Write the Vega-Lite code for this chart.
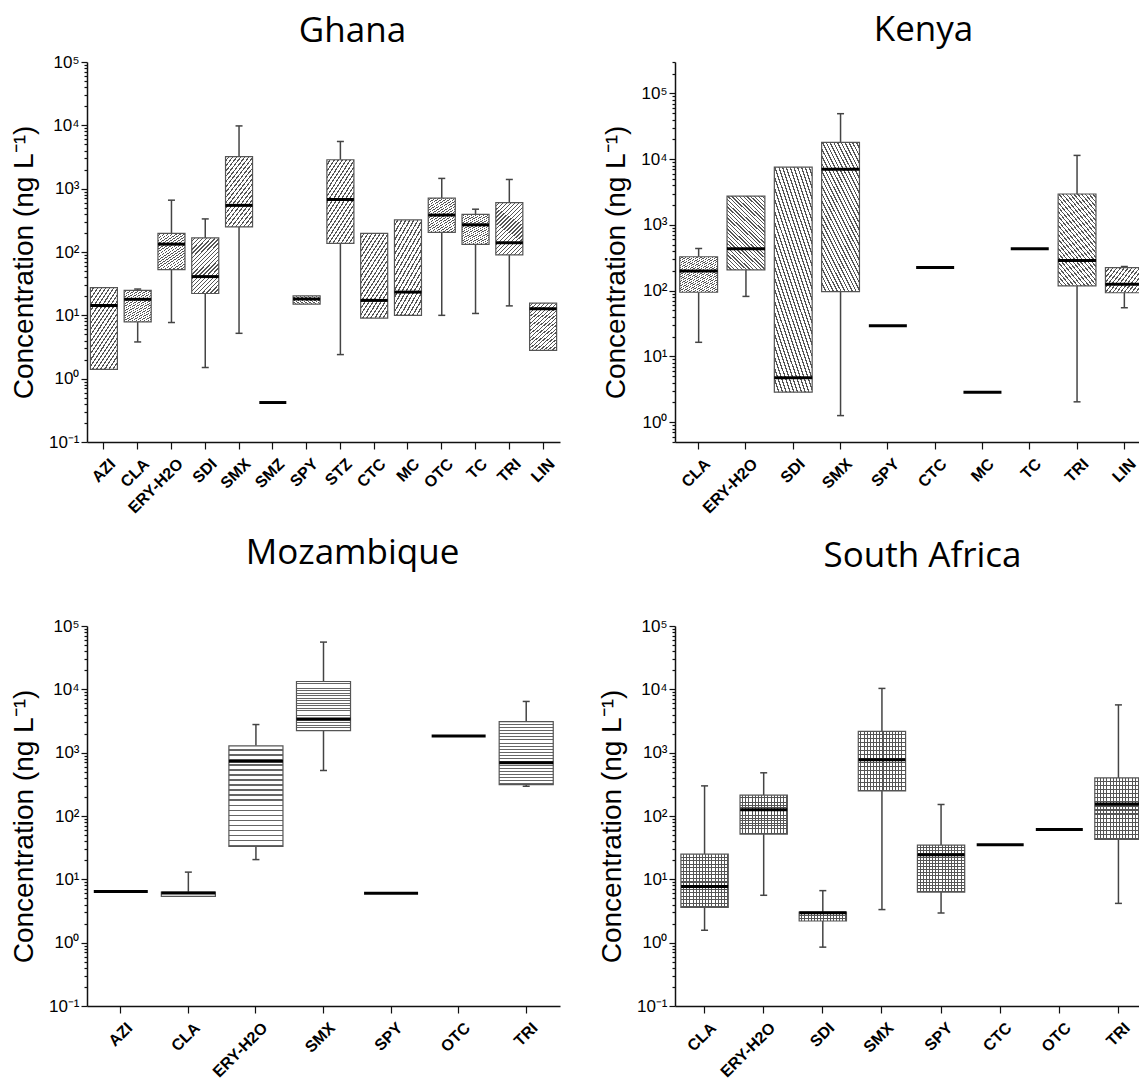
{
  "$schema": "https://vega.github.io/schema/vega-lite/v6.json",
  "background": "white",
  "padding": {"left": 10, "top": 13, "right": 0, "bottom": 0},
  "bounds": "flush",
  "columns": 2,
  "spacing": {"row": 184, "column": 115},
  "config": {
    "view": {"stroke": null},
    "tick": {"opacity": 1},
    "axis": {"grid": false, "domainColor": "#111", "domainWidth": 1.5, "tickColor": "#111", "tickWidth": 1.2, "labelColor": "#000", "titleColor": "#000"}
  },
  "datasets": {
    "boxes": [
      {"country": "Ghana", "drug": "AZI", "min": null, "q1": 1.4, "median": 14.3, "q3": 27.4, "max": null},
      {"country": "Ghana", "drug": "CLA", "min": 3.8, "q1": 7.9, "median": 17.9, "q3": 24.8, "max": 26},
      {"country": "Ghana", "drug": "ERY-H2O", "min": 7.7, "q1": 52.6, "median": 133, "q3": 197, "max": 658},
      {"country": "Ghana", "drug": "SDI", "min": 1.5, "q1": 22.1, "median": 40.9, "q3": 167, "max": 333},
      {"country": "Ghana", "drug": "SMX", "min": 5.2, "q1": 250, "median": 545, "q3": 3200, "max": 9790},
      {"country": "Ghana", "drug": "SMZ", "min": null, "q1": null, "median": 0.42, "q3": null, "max": null},
      {"country": "Ghana", "drug": "SPY", "min": null, "q1": 15, "median": 18.1, "q3": 20.3, "max": null},
      {"country": "Ghana", "drug": "STZ", "min": 2.4, "q1": 137, "median": 674, "q3": 2860, "max": 5560},
      {"country": "Ghana", "drug": "CTC", "min": null, "q1": 9.06, "median": 17.2, "q3": 197, "max": null},
      {"country": "Ghana", "drug": "MC", "min": null, "q1": 10, "median": 23.3, "q3": 321, "max": null},
      {"country": "Ghana", "drug": "OTC", "min": 10, "q1": 204, "median": 383, "q3": 709, "max": 1452},
      {"country": "Ghana", "drug": "TC", "min": 10.7, "q1": 132, "median": 269, "q3": 393, "max": 474},
      {"country": "Ghana", "drug": "TRI", "min": 14.1, "q1": 90, "median": 140, "q3": 602, "max": 1397},
      {"country": "Ghana", "drug": "LIN", "min": null, "q1": 2.8, "median": 12.7, "q3": 15.6, "max": null},
      {"country": "Kenya", "drug": "CLA", "min": 16.4, "q1": 94.6, "median": 200, "q3": 328, "max": 438},
      {"country": "Kenya", "drug": "ERY-H2O", "min": 81.8, "q1": 207, "median": 433, "q3": 2742, "max": null},
      {"country": "Kenya", "drug": "SDI", "min": null, "q1": 2.86, "median": 4.74, "q3": 7560, "max": null},
      {"country": "Kenya", "drug": "SMX", "min": 1.26, "q1": 97, "median": 7030, "q3": 18000, "max": 49100},
      {"country": "Kenya", "drug": "SPY", "min": null, "q1": null, "median": 29.4, "q3": null, "max": null},
      {"country": "Kenya", "drug": "CTC", "min": null, "q1": null, "median": 225, "q3": null, "max": null},
      {"country": "Kenya", "drug": "MC", "min": null, "q1": null, "median": 2.86, "q3": null, "max": null},
      {"country": "Kenya", "drug": "TC", "min": null, "q1": null, "median": 433, "q3": null, "max": null},
      {"country": "Kenya", "drug": "TRI", "min": 2.04, "q1": 118, "median": 288, "q3": 2950, "max": 11400},
      {"country": "Kenya", "drug": "LIN", "min": 55, "q1": 93, "median": 125, "q3": 224, "max": 233},
      {"country": "Mozambique", "drug": "AZI", "min": null, "q1": null, "median": 6.44, "q3": null, "max": null},
      {"country": "Mozambique", "drug": "CLA", "min": null, "q1": 5.4, "median": 6.1, "q3": 6.3, "max": 13},
      {"country": "Mozambique", "drug": "ERY-H2O", "min": 20.5, "q1": 33, "median": 735, "q3": 1284, "max": 2780},
      {"country": "Mozambique", "drug": "SMX", "min": 523, "q1": 2228, "median": 3410, "q3": 13300, "max": 55700},
      {"country": "Mozambique", "drug": "SPY", "min": null, "q1": null, "median": 6.04, "q3": null, "max": null},
      {"country": "Mozambique", "drug": "OTC", "min": null, "q1": null, "median": 1829, "q3": null, "max": null},
      {"country": "Mozambique", "drug": "TRI", "min": 295, "q1": 314, "median": 694, "q3": 3100, "max": 6440},
      {"country": "South Africa", "drug": "CLA", "min": 1.57, "q1": 3.59, "median": 7.7, "q3": 25, "max": 299},
      {"country": "South Africa", "drug": "ERY-H2O", "min": 5.6, "q1": 51.8, "median": 126, "q3": 213, "max": 481},
      {"country": "South Africa", "drug": "SDI", "min": 0.85, "q1": 2.2, "median": 2.98, "q3": 3.05, "max": 6.63},
      {"country": "South Africa", "drug": "SMX", "min": 3.33, "q1": 248, "median": 775, "q3": 2175, "max": 10340},
      {"country": "South Africa", "drug": "SPY", "min": 2.94, "q1": 6.3, "median": 24.4, "q3": 34.7, "max": 152},
      {"country": "South Africa", "drug": "CTC", "min": null, "q1": null, "median": 35.1, "q3": null, "max": null},
      {"country": "South Africa", "drug": "OTC", "min": null, "q1": null, "median": 61, "q3": null, "max": null},
      {"country": "South Africa", "drug": "TRI", "min": 4.17, "q1": 42.9, "median": 154, "q3": 399, "max": 5680}
    ]
  },
  "data": {"name": "boxes"},
  "concat": [
    {
      "width": 473, "height": 380,
      "title": {"text": "Ghana", "font": "Open Sans", "fontSize": 35, "fontWeight": "normal", "color": "#000", "anchor": "middle", "frame": "group", "baseline": "alphabetic", "offset": -24, "dx": 29},
      "transform": [{"filter": "datum.country == 'Ghana'"}],
      "encoding": {
        "x": {"field": "drug", "type": "nominal", "title": null,
          "scale": {"type": "band", "domain": ["AZI","CLA","ERY-H2O","SDI","SMX","SMZ","SPY","STZ","CTC","MC","OTC","TC","TRI","LIN"], "paddingInner": 0.2, "paddingOuter": 0.1},
          "axis": {"labelAngle": -45, "labelAlign": "right", "labelBaseline": "middle", "labelFont": "Liberation Sans", "labelFontWeight": "bold", "labelFontSize": 16, "labelPadding": 12, "labelOffset": 9, "tickSize": 7, "bandPosition": 0.5, "labelOverlap": false}}
      },
      "layer": [
        {"transform": [{"filter": "isValid(datum.max)"}],
         "mark": {"type": "rule", "color": "#444", "strokeWidth": 1.5},
         "encoding": {
           "y": {"field": "q3", "type": "quantitative", "title": "Concentration (ng L⁻¹)",
             "scale": {"type": "log", "domain": [0.1, 100000], "nice": false},
             "axis": {"values": [0.1,0.2,0.3,0.4,0.5,0.6,0.7,0.8,0.9,1,2,3,4,5,6,7,8,9,10,20,30,40,50,60,70,80,90,100,200,300,400,500,600,700,800,900,1000,2000,3000,4000,5000,6000,7000,8000,9000,10000,20000,30000,40000,50000,60000,70000,80000,90000,100000],
               "labelExpr": "datum.value == 0.1 ? '10⁻¹' : datum.value == 1 ? '10⁰' : datum.value == 10 ? '10¹' : datum.value == 100 ? '10²' : datum.value == 1000 ? '10³' : datum.value == 10000 ? '10⁴' : datum.value == 100000 ? '10⁵' : ''",
               "tickSize": {"condition": {"test": "indexof([0.1,1,10,100,1000,10000,100000], datum.value) >= 0", "value": 6}, "value": 3},
               "labelFont": "Liberation Sans", "labelFontSize": 17, "labelPadding": 2, "labelOverlap": false,
               "titleFont": "Liberation Sans", "titleFontSize": 28, "titleFontWeight": "normal", "titlePadding": 10, "titleY": 200}},
           "y2": {"field": "max"}}},
        {"transform": [{"filter": "isValid(datum.max)"}],
         "mark": {"type": "tick", "color": "#444", "size": 7, "thickness": 1.5},
         "encoding": {"y": {"field": "max", "type": "quantitative", "title": "Concentration (ng L⁻¹)", "scale": {"type": "log", "domain": [0.1, 100000], "nice": false}}}},
        {"transform": [{"filter": "isValid(datum.min)"}],
         "mark": {"type": "rule", "color": "#444", "strokeWidth": 1.5},
         "encoding": {"y": {"field": "min", "type": "quantitative", "title": "Concentration (ng L⁻¹)", "scale": {"type": "log", "domain": [0.1, 100000], "nice": false}}, "y2": {"field": "q1"}}},
        {"transform": [{"filter": "isValid(datum.min)"}],
         "mark": {"type": "tick", "color": "#444", "size": 7, "thickness": 1.5},
         "encoding": {"y": {"field": "min", "type": "quantitative", "title": "Concentration (ng L⁻¹)", "scale": {"type": "log", "domain": [0.1, 100000], "nice": false}}}},
        {"transform": [{"filter": "isValid(datum.q1)"}],
         "mark": {"type": "bar", "stroke": "#555", "strokeWidth": 1.2,
           "fill": {"gradient": "linear", "x1": 0, "y1": 0, "x2": 1, "y2": 2, "stops": [
             {"offset":0,"color":"#fff"},{"offset":0.02,"color":"#fff"},{"offset":0.02,"color":"#555"},{"offset":0.03,"color":"#555"},
             {"offset":0.03,"color":"#fff"},{"offset":0.05,"color":"#fff"},{"offset":0.05,"color":"#555"},{"offset":0.06,"color":"#555"},
             {"offset":0.06,"color":"#fff"},{"offset":0.08,"color":"#fff"},{"offset":0.08,"color":"#555"},{"offset":0.09,"color":"#555"},
             {"offset":0.09,"color":"#fff"},{"offset":0.11,"color":"#fff"},{"offset":0.11,"color":"#555"},{"offset":0.12,"color":"#555"},
             {"offset":0.12,"color":"#fff"},{"offset":0.14,"color":"#fff"},{"offset":0.14,"color":"#555"},{"offset":0.15,"color":"#555"},
             {"offset":0.15,"color":"#fff"},{"offset":0.17,"color":"#fff"},{"offset":0.17,"color":"#555"},{"offset":0.18,"color":"#555"},
             {"offset":0.18,"color":"#fff"},{"offset":0.2,"color":"#fff"},{"offset":0.2,"color":"#555"},{"offset":0.21,"color":"#555"},
             {"offset":0.21,"color":"#fff"},{"offset":0.23,"color":"#fff"},{"offset":0.23,"color":"#555"},{"offset":0.24,"color":"#555"},
             {"offset":0.24,"color":"#fff"},{"offset":0.26,"color":"#fff"},{"offset":0.26,"color":"#555"},{"offset":0.27,"color":"#555"},
             {"offset":0.27,"color":"#fff"},{"offset":0.29,"color":"#fff"},{"offset":0.29,"color":"#555"},{"offset":0.3,"color":"#555"},
             {"offset":0.3,"color":"#fff"},{"offset":0.32,"color":"#fff"},{"offset":0.32,"color":"#555"},{"offset":0.33,"color":"#555"},
             {"offset":0.33,"color":"#fff"},{"offset":0.35,"color":"#fff"},{"offset":0.35,"color":"#555"},{"offset":0.36,"color":"#555"},
             {"offset":0.36,"color":"#fff"},{"offset":0.38,"color":"#fff"},{"offset":0.38,"color":"#555"},{"offset":0.39,"color":"#555"},
             {"offset":0.39,"color":"#fff"},{"offset":0.41,"color":"#fff"},{"offset":0.41,"color":"#555"},{"offset":0.42,"color":"#555"},
             {"offset":0.42,"color":"#fff"},{"offset":0.44,"color":"#fff"},{"offset":0.44,"color":"#555"},{"offset":0.45,"color":"#555"},
             {"offset":0.45,"color":"#fff"},{"offset":0.47,"color":"#fff"},{"offset":0.47,"color":"#555"},{"offset":0.48,"color":"#555"},
             {"offset":0.48,"color":"#fff"},{"offset":0.5,"color":"#fff"},{"offset":0.5,"color":"#555"},{"offset":0.51,"color":"#555"},
             {"offset":0.51,"color":"#fff"},{"offset":0.53,"color":"#fff"},{"offset":0.53,"color":"#555"},{"offset":0.54,"color":"#555"},
             {"offset":0.54,"color":"#fff"},{"offset":0.56,"color":"#fff"},{"offset":0.56,"color":"#555"},{"offset":0.57,"color":"#555"},
             {"offset":0.57,"color":"#fff"},{"offset":0.59,"color":"#fff"},{"offset":0.59,"color":"#555"},{"offset":0.6,"color":"#555"},
             {"offset":0.6,"color":"#fff"},{"offset":1,"color":"#fff"}]}},
         "encoding": {"y": {"field": "q1", "type": "quantitative", "title": "Concentration (ng L⁻¹)", "scale": {"type": "log", "domain": [0.1, 100000], "nice": false}}, "y2": {"field": "q3"}}},
        {"mark": {"type": "tick", "color": "#000", "size": 27, "thickness": 3},
         "encoding": {"y": {"field": "median", "type": "quantitative", "title": "Concentration (ng L⁻¹)", "scale": {"type": "log", "domain": [0.1, 100000], "nice": false}}}}
      ]
    },
    {
      "width": 473, "height": 380,
      "title": {"text": "Kenya", "font": "Open Sans", "fontSize": 35, "fontWeight": "normal", "color": "#000", "anchor": "middle", "frame": "group", "baseline": "alphabetic", "offset": -23, "dx": 12},
      "transform": [{"filter": "datum.country == 'Kenya'"}],
      "encoding": {
        "x": {"field": "drug", "type": "nominal", "title": null,
          "scale": {"type": "band", "domain": ["CLA","ERY-H2O","SDI","SMX","SPY","CTC","MC","TC","TRI","LIN"], "paddingInner": 0.2, "paddingOuter": 0.1},
          "axis": {"labelAngle": -45, "labelAlign": "right", "labelBaseline": "middle", "labelFont": "Liberation Sans", "labelFontWeight": "bold", "labelFontSize": 16, "labelPadding": 12, "labelOffset": 9, "tickSize": 7, "bandPosition": 0.5, "labelOverlap": false}}
      },
      "layer": [
        {"transform": [{"filter": "isValid(datum.max)"}],
         "mark": {"type": "rule", "color": "#444", "strokeWidth": 1.5},
         "encoding": {
           "y": {"field": "q3", "type": "quantitative", "title": "Concentration (ng L⁻¹)",
             "scale": {"type": "log", "domain": [0.5, 300000], "nice": false},
             "axis": {"values": [0.5,0.6,0.7,0.8,0.9,1,2,3,4,5,6,7,8,9,10,20,30,40,50,60,70,80,90,100,200,300,400,500,600,700,800,900,1000,2000,3000,4000,5000,6000,7000,8000,9000,10000,20000,30000,40000,50000,60000,70000,80000,90000,100000,200000,300000],
               "labelExpr": "datum.value == 0.1 ? '10⁻¹' : datum.value == 1 ? '10⁰' : datum.value == 10 ? '10¹' : datum.value == 100 ? '10²' : datum.value == 1000 ? '10³' : datum.value == 10000 ? '10⁴' : datum.value == 100000 ? '10⁵' : ''",
               "tickSize": {"condition": {"test": "indexof([0.1,1,10,100,1000,10000,100000], datum.value) >= 0", "value": 6}, "value": 3},
               "labelFont": "Liberation Sans", "labelFontSize": 17, "labelPadding": 2, "labelOverlap": false,
               "titleFont": "Liberation Sans", "titleFontSize": 28, "titleFontWeight": "normal", "titlePadding": 10, "titleY": 200}},
           "y2": {"field": "max"}}},
        {"transform": [{"filter": "isValid(datum.max)"}],
         "mark": {"type": "tick", "color": "#444", "size": 7, "thickness": 1.5},
         "encoding": {"y": {"field": "max", "type": "quantitative", "title": "Concentration (ng L⁻¹)", "scale": {"type": "log", "domain": [0.5, 300000], "nice": false}}}},
        {"transform": [{"filter": "isValid(datum.min)"}],
         "mark": {"type": "rule", "color": "#444", "strokeWidth": 1.5},
         "encoding": {"y": {"field": "min", "type": "quantitative", "title": "Concentration (ng L⁻¹)", "scale": {"type": "log", "domain": [0.5, 300000], "nice": false}}, "y2": {"field": "q1"}}},
        {"transform": [{"filter": "isValid(datum.min)"}],
         "mark": {"type": "tick", "color": "#444", "size": 7, "thickness": 1.5},
         "encoding": {"y": {"field": "min", "type": "quantitative", "title": "Concentration (ng L⁻¹)", "scale": {"type": "log", "domain": [0.5, 300000], "nice": false}}}},
        {"transform": [{"filter": "isValid(datum.q1)"}],
         "mark": {"type": "bar", "stroke": "#555", "strokeWidth": 1.2,
           "fill": {"gradient": "linear", "x1": 1, "y1": 0, "x2": 0, "y2": 2, "stops": [
             {"offset":0,"color":"#fff"},{"offset":0.013,"color":"#fff"},{"offset":0.013,"color":"#555"},{"offset":0.02,"color":"#555"},
             {"offset":0.02,"color":"#fff"},{"offset":0.033,"color":"#fff"},{"offset":0.033,"color":"#555"},{"offset":0.04,"color":"#555"},
             {"offset":0.04,"color":"#fff"},{"offset":0.053,"color":"#fff"},{"offset":0.053,"color":"#555"},{"offset":0.06,"color":"#555"},
             {"offset":0.06,"color":"#fff"},{"offset":0.073,"color":"#fff"},{"offset":0.073,"color":"#555"},{"offset":0.08,"color":"#555"},
             {"offset":0.08,"color":"#fff"},{"offset":0.093,"color":"#fff"},{"offset":0.093,"color":"#555"},{"offset":0.1,"color":"#555"},
             {"offset":0.1,"color":"#fff"},{"offset":0.113,"color":"#fff"},{"offset":0.113,"color":"#555"},{"offset":0.12,"color":"#555"},
             {"offset":0.12,"color":"#fff"},{"offset":0.133,"color":"#fff"},{"offset":0.133,"color":"#555"},{"offset":0.14,"color":"#555"},
             {"offset":0.14,"color":"#fff"},{"offset":0.153,"color":"#fff"},{"offset":0.153,"color":"#555"},{"offset":0.16,"color":"#555"},
             {"offset":0.16,"color":"#fff"},{"offset":0.173,"color":"#fff"},{"offset":0.173,"color":"#555"},{"offset":0.18,"color":"#555"},
             {"offset":0.18,"color":"#fff"},{"offset":0.193,"color":"#fff"},{"offset":0.193,"color":"#555"},{"offset":0.2,"color":"#555"},
             {"offset":0.2,"color":"#fff"},{"offset":0.213,"color":"#fff"},{"offset":0.213,"color":"#555"},{"offset":0.22,"color":"#555"},
             {"offset":0.22,"color":"#fff"},{"offset":0.233,"color":"#fff"},{"offset":0.233,"color":"#555"},{"offset":0.24,"color":"#555"},
             {"offset":0.24,"color":"#fff"},{"offset":0.253,"color":"#fff"},{"offset":0.253,"color":"#555"},{"offset":0.26,"color":"#555"},
             {"offset":0.26,"color":"#fff"},{"offset":0.273,"color":"#fff"},{"offset":0.273,"color":"#555"},{"offset":0.28,"color":"#555"},
             {"offset":0.28,"color":"#fff"},{"offset":0.293,"color":"#fff"},{"offset":0.293,"color":"#555"},{"offset":0.3,"color":"#555"},
             {"offset":0.3,"color":"#fff"},{"offset":0.313,"color":"#fff"},{"offset":0.313,"color":"#555"},{"offset":0.32,"color":"#555"},
             {"offset":0.32,"color":"#fff"},{"offset":0.333,"color":"#fff"},{"offset":0.333,"color":"#555"},{"offset":0.34,"color":"#555"},
             {"offset":0.34,"color":"#fff"},{"offset":0.353,"color":"#fff"},{"offset":0.353,"color":"#555"},{"offset":0.36,"color":"#555"},
             {"offset":0.36,"color":"#fff"},{"offset":0.373,"color":"#fff"},{"offset":0.373,"color":"#555"},{"offset":0.38,"color":"#555"},
             {"offset":0.38,"color":"#fff"},{"offset":0.393,"color":"#fff"},{"offset":0.393,"color":"#555"},{"offset":0.4,"color":"#555"},
             {"offset":0.4,"color":"#fff"},{"offset":0.413,"color":"#fff"},{"offset":0.413,"color":"#555"},{"offset":0.42,"color":"#555"},
             {"offset":0.42,"color":"#fff"},{"offset":0.433,"color":"#fff"},{"offset":0.433,"color":"#555"},{"offset":0.44,"color":"#555"},
             {"offset":0.44,"color":"#fff"},{"offset":0.453,"color":"#fff"},{"offset":0.453,"color":"#555"},{"offset":0.46,"color":"#555"},
             {"offset":0.46,"color":"#fff"},{"offset":0.473,"color":"#fff"},{"offset":0.473,"color":"#555"},{"offset":0.48,"color":"#555"},
             {"offset":0.48,"color":"#fff"},{"offset":0.493,"color":"#fff"},{"offset":0.493,"color":"#555"},{"offset":0.5,"color":"#555"},
             {"offset":0.5,"color":"#fff"},{"offset":0.513,"color":"#fff"},{"offset":0.513,"color":"#555"},{"offset":0.52,"color":"#555"},
             {"offset":0.52,"color":"#fff"},{"offset":0.533,"color":"#fff"},{"offset":0.533,"color":"#555"},{"offset":0.54,"color":"#555"},
             {"offset":0.54,"color":"#fff"},{"offset":0.553,"color":"#fff"},{"offset":0.553,"color":"#555"},{"offset":0.56,"color":"#555"},
             {"offset":0.56,"color":"#fff"},{"offset":0.573,"color":"#fff"},{"offset":0.573,"color":"#555"},{"offset":0.58,"color":"#555"},
             {"offset":0.58,"color":"#fff"},{"offset":0.593,"color":"#fff"},{"offset":0.593,"color":"#555"},{"offset":0.6,"color":"#555"},
             {"offset":0.6,"color":"#fff"},{"offset":1,"color":"#fff"}]}},
         "encoding": {"y": {"field": "q1", "type": "quantitative", "title": "Concentration (ng L⁻¹)", "scale": {"type": "log", "domain": [0.5, 300000], "nice": false}}, "y2": {"field": "q3"}}},
        {"mark": {"type": "tick", "color": "#000", "size": 38, "thickness": 3},
         "encoding": {"y": {"field": "median", "type": "quantitative", "title": "Concentration (ng L⁻¹)", "scale": {"type": "log", "domain": [0.5, 300000], "nice": false}}}}
      ]
    },
    {
      "width": 473, "height": 380,
      "title": {"text": "Mozambique", "font": "Open Sans", "fontSize": 35, "fontWeight": "normal", "color": "#000", "anchor": "middle", "frame": "group", "baseline": "alphabetic", "offset": 18, "dx": 29},
      "transform": [{"filter": "datum.country == 'Mozambique'"}],
      "encoding": {
        "x": {"field": "drug", "type": "nominal", "title": null,
          "scale": {"type": "band", "domain": ["AZI","CLA","ERY-H2O","SMX","SPY","OTC","TRI"], "paddingInner": 0.2, "paddingOuter": 0.1},
          "axis": {"labelAngle": -45, "labelAlign": "right", "labelBaseline": "middle", "labelFont": "Liberation Sans", "labelFontWeight": "bold", "labelFontSize": 16, "labelPadding": 12, "labelOffset": 9, "tickSize": 7, "bandPosition": 0.5, "labelOverlap": false}}
      },
      "layer": [
        {"transform": [{"filter": "isValid(datum.max)"}],
         "mark": {"type": "rule", "color": "#444", "strokeWidth": 1.5},
         "encoding": {
           "y": {"field": "q3", "type": "quantitative", "title": "Concentration (ng L⁻¹)",
             "scale": {"type": "log", "domain": [0.1, 100000], "nice": false},
             "axis": {"values": [0.1,0.2,0.3,0.4,0.5,0.6,0.7,0.8,0.9,1,2,3,4,5,6,7,8,9,10,20,30,40,50,60,70,80,90,100,200,300,400,500,600,700,800,900,1000,2000,3000,4000,5000,6000,7000,8000,9000,10000,20000,30000,40000,50000,60000,70000,80000,90000,100000],
               "labelExpr": "datum.value == 0.1 ? '10⁻¹' : datum.value == 1 ? '10⁰' : datum.value == 10 ? '10¹' : datum.value == 100 ? '10²' : datum.value == 1000 ? '10³' : datum.value == 10000 ? '10⁴' : datum.value == 100000 ? '10⁵' : ''",
               "tickSize": {"condition": {"test": "indexof([0.1,1,10,100,1000,10000,100000], datum.value) >= 0", "value": 6}, "value": 3},
               "labelFont": "Liberation Sans", "labelFontSize": 17, "labelPadding": 2, "labelOverlap": false,
               "titleFont": "Liberation Sans", "titleFontSize": 28, "titleFontWeight": "normal", "titlePadding": 10, "titleY": 200}},
           "y2": {"field": "max"}}},
        {"transform": [{"filter": "isValid(datum.max)"}],
         "mark": {"type": "tick", "color": "#444", "size": 7, "thickness": 1.5},
         "encoding": {"y": {"field": "max", "type": "quantitative", "title": "Concentration (ng L⁻¹)", "scale": {"type": "log", "domain": [0.1, 100000], "nice": false}}}},
        {"transform": [{"filter": "isValid(datum.min)"}],
         "mark": {"type": "rule", "color": "#444", "strokeWidth": 1.5},
         "encoding": {"y": {"field": "min", "type": "quantitative", "title": "Concentration (ng L⁻¹)", "scale": {"type": "log", "domain": [0.1, 100000], "nice": false}}, "y2": {"field": "q1"}}},
        {"transform": [{"filter": "isValid(datum.min)"}],
         "mark": {"type": "tick", "color": "#444", "size": 7, "thickness": 1.5},
         "encoding": {"y": {"field": "min", "type": "quantitative", "title": "Concentration (ng L⁻¹)", "scale": {"type": "log", "domain": [0.1, 100000], "nice": false}}}},
        {"transform": [{"filter": "isValid(datum.q1)"}],
         "mark": {"type": "bar", "stroke": "#555", "strokeWidth": 1.2,
           "fill": {"gradient": "linear", "x1": 0, "y1": 0, "x2": 0, "y2": 1, "stops": [
             {"offset":0,"color":"#fff"},{"offset":0.033,"color":"#fff"},{"offset":0.033,"color":"#666"},{"offset":0.05,"color":"#666"},
             {"offset":0.05,"color":"#fff"},{"offset":0.083,"color":"#fff"},{"offset":0.083,"color":"#666"},{"offset":0.1,"color":"#666"},
             {"offset":0.1,"color":"#fff"},{"offset":0.133,"color":"#fff"},{"offset":0.133,"color":"#666"},{"offset":0.15,"color":"#666"},
             {"offset":0.15,"color":"#fff"},{"offset":0.183,"color":"#fff"},{"offset":0.183,"color":"#666"},{"offset":0.2,"color":"#666"},
             {"offset":0.2,"color":"#fff"},{"offset":0.233,"color":"#fff"},{"offset":0.233,"color":"#666"},{"offset":0.25,"color":"#666"},
             {"offset":0.25,"color":"#fff"},{"offset":0.283,"color":"#fff"},{"offset":0.283,"color":"#666"},{"offset":0.3,"color":"#666"},
             {"offset":0.3,"color":"#fff"},{"offset":0.333,"color":"#fff"},{"offset":0.333,"color":"#666"},{"offset":0.35,"color":"#666"},
             {"offset":0.35,"color":"#fff"},{"offset":0.383,"color":"#fff"},{"offset":0.383,"color":"#666"},{"offset":0.4,"color":"#666"},
             {"offset":0.4,"color":"#fff"},{"offset":0.433,"color":"#fff"},{"offset":0.433,"color":"#666"},{"offset":0.45,"color":"#666"},
             {"offset":0.45,"color":"#fff"},{"offset":0.483,"color":"#fff"},{"offset":0.483,"color":"#666"},{"offset":0.5,"color":"#666"},
             {"offset":0.5,"color":"#fff"},{"offset":0.533,"color":"#fff"},{"offset":0.533,"color":"#666"},{"offset":0.55,"color":"#666"},
             {"offset":0.55,"color":"#fff"},{"offset":0.583,"color":"#fff"},{"offset":0.583,"color":"#666"},{"offset":0.6,"color":"#666"},
             {"offset":0.6,"color":"#fff"},{"offset":0.633,"color":"#fff"},{"offset":0.633,"color":"#666"},{"offset":0.65,"color":"#666"},
             {"offset":0.65,"color":"#fff"},{"offset":0.683,"color":"#fff"},{"offset":0.683,"color":"#666"},{"offset":0.7,"color":"#666"},
             {"offset":0.7,"color":"#fff"},{"offset":0.733,"color":"#fff"},{"offset":0.733,"color":"#666"},{"offset":0.75,"color":"#666"},
             {"offset":0.75,"color":"#fff"},{"offset":0.783,"color":"#fff"},{"offset":0.783,"color":"#666"},{"offset":0.8,"color":"#666"},
             {"offset":0.8,"color":"#fff"},{"offset":0.833,"color":"#fff"},{"offset":0.833,"color":"#666"},{"offset":0.85,"color":"#666"},
             {"offset":0.85,"color":"#fff"},{"offset":0.883,"color":"#fff"},{"offset":0.883,"color":"#666"},{"offset":0.9,"color":"#666"},
             {"offset":0.9,"color":"#fff"},{"offset":0.933,"color":"#fff"},{"offset":0.933,"color":"#666"},{"offset":0.95,"color":"#666"},
             {"offset":0.95,"color":"#fff"},{"offset":0.983,"color":"#fff"},{"offset":0.983,"color":"#666"},{"offset":1,"color":"#666"}]}},
         "encoding": {"y": {"field": "q1", "type": "quantitative", "title": "Concentration (ng L⁻¹)", "scale": {"type": "log", "domain": [0.1, 100000], "nice": false}}, "y2": {"field": "q3"}}},
        {"mark": {"type": "tick", "color": "#000", "size": 54, "thickness": 3},
         "encoding": {"y": {"field": "median", "type": "quantitative", "title": "Concentration (ng L⁻¹)", "scale": {"type": "log", "domain": [0.1, 100000], "nice": false}}}}
      ]
    },
    {
      "width": 473, "height": 380,
      "title": {"text": "South Africa", "font": "Open Sans", "fontSize": 35, "fontWeight": "normal", "color": "#000", "anchor": "middle", "frame": "group", "baseline": "alphabetic", "offset": 15, "dx": 11},
      "transform": [{"filter": "datum.country == 'South Africa'"}],
      "encoding": {
        "x": {"field": "drug", "type": "nominal", "title": null,
          "scale": {"type": "band", "domain": ["CLA","ERY-H2O","SDI","SMX","SPY","CTC","OTC","TRI"], "paddingInner": 0.2, "paddingOuter": 0.1},
          "axis": {"labelAngle": -45, "labelAlign": "right", "labelBaseline": "middle", "labelFont": "Liberation Sans", "labelFontWeight": "bold", "labelFontSize": 16, "labelPadding": 12, "labelOffset": 9, "tickSize": 7, "bandPosition": 0.5, "labelOverlap": false}}
      },
      "layer": [
        {"transform": [{"filter": "isValid(datum.max)"}],
         "mark": {"type": "rule", "color": "#444", "strokeWidth": 1.5},
         "encoding": {
           "y": {"field": "q3", "type": "quantitative", "title": "Concentration (ng L⁻¹)",
             "scale": {"type": "log", "domain": [0.1, 100000], "nice": false},
             "axis": {"values": [0.1,0.2,0.3,0.4,0.5,0.6,0.7,0.8,0.9,1,2,3,4,5,6,7,8,9,10,20,30,40,50,60,70,80,90,100,200,300,400,500,600,700,800,900,1000,2000,3000,4000,5000,6000,7000,8000,9000,10000,20000,30000,40000,50000,60000,70000,80000,90000,100000],
               "labelExpr": "datum.value == 0.1 ? '10⁻¹' : datum.value == 1 ? '10⁰' : datum.value == 10 ? '10¹' : datum.value == 100 ? '10²' : datum.value == 1000 ? '10³' : datum.value == 10000 ? '10⁴' : datum.value == 100000 ? '10⁵' : ''",
               "tickSize": {"condition": {"test": "indexof([0.1,1,10,100,1000,10000,100000], datum.value) >= 0", "value": 6}, "value": 3},
               "labelFont": "Liberation Sans", "labelFontSize": 17, "labelPadding": 2, "labelOverlap": false,
               "titleFont": "Liberation Sans", "titleFontSize": 28, "titleFontWeight": "normal", "titlePadding": 10, "titleY": 200}},
           "y2": {"field": "max"}}},
        {"transform": [{"filter": "isValid(datum.max)"}],
         "mark": {"type": "tick", "color": "#444", "size": 7, "thickness": 1.5},
         "encoding": {"y": {"field": "max", "type": "quantitative", "title": "Concentration (ng L⁻¹)", "scale": {"type": "log", "domain": [0.1, 100000], "nice": false}}}},
        {"transform": [{"filter": "isValid(datum.min)"}],
         "mark": {"type": "rule", "color": "#444", "strokeWidth": 1.5},
         "encoding": {"y": {"field": "min", "type": "quantitative", "title": "Concentration (ng L⁻¹)", "scale": {"type": "log", "domain": [0.1, 100000], "nice": false}}, "y2": {"field": "q1"}}},
        {"transform": [{"filter": "isValid(datum.min)"}],
         "mark": {"type": "tick", "color": "#444", "size": 7, "thickness": 1.5},
         "encoding": {"y": {"field": "min", "type": "quantitative", "title": "Concentration (ng L⁻¹)", "scale": {"type": "log", "domain": [0.1, 100000], "nice": false}}}},
        {"transform": [{"filter": "isValid(datum.q1)"}],
         "mark": {"type": "bar",
           "fill": {"gradient": "linear", "x1": 0, "y1": 0, "x2": 1, "y2": 0, "stops": [
             {"offset":0,"color":"#fff"},{"offset":0.045,"color":"#fff"},{"offset":0.045,"color":"#555"},{"offset":0.0667,"color":"#555"},
             {"offset":0.0667,"color":"#fff"},{"offset":0.1117,"color":"#fff"},{"offset":0.1117,"color":"#555"},{"offset":0.1333,"color":"#555"},
             {"offset":0.1333,"color":"#fff"},{"offset":0.1783,"color":"#fff"},{"offset":0.1783,"color":"#555"},{"offset":0.2,"color":"#555"},
             {"offset":0.2,"color":"#fff"},{"offset":0.245,"color":"#fff"},{"offset":0.245,"color":"#555"},{"offset":0.2667,"color":"#555"},
             {"offset":0.2667,"color":"#fff"},{"offset":0.3117,"color":"#fff"},{"offset":0.3117,"color":"#555"},{"offset":0.3333,"color":"#555"},
             {"offset":0.3333,"color":"#fff"},{"offset":0.3783,"color":"#fff"},{"offset":0.3783,"color":"#555"},{"offset":0.4,"color":"#555"},
             {"offset":0.4,"color":"#fff"},{"offset":0.445,"color":"#fff"},{"offset":0.445,"color":"#555"},{"offset":0.4667,"color":"#555"},
             {"offset":0.4667,"color":"#fff"},{"offset":0.5117,"color":"#fff"},{"offset":0.5117,"color":"#555"},{"offset":0.5333,"color":"#555"},
             {"offset":0.5333,"color":"#fff"},{"offset":0.5783,"color":"#fff"},{"offset":0.5783,"color":"#555"},{"offset":0.6,"color":"#555"},
             {"offset":0.6,"color":"#fff"},{"offset":0.645,"color":"#fff"},{"offset":0.645,"color":"#555"},{"offset":0.6667,"color":"#555"},
             {"offset":0.6667,"color":"#fff"},{"offset":0.7117,"color":"#fff"},{"offset":0.7117,"color":"#555"},{"offset":0.7333,"color":"#555"},
             {"offset":0.7333,"color":"#fff"},{"offset":0.7783,"color":"#fff"},{"offset":0.7783,"color":"#555"},{"offset":0.8,"color":"#555"},
             {"offset":0.8,"color":"#fff"},{"offset":0.845,"color":"#fff"},{"offset":0.845,"color":"#555"},{"offset":0.8667,"color":"#555"},
             {"offset":0.8667,"color":"#fff"},{"offset":0.9117,"color":"#fff"},{"offset":0.9117,"color":"#555"},{"offset":0.9333,"color":"#555"},
             {"offset":0.9333,"color":"#fff"},{"offset":0.9783,"color":"#fff"},{"offset":0.9783,"color":"#555"},{"offset":1,"color":"#555"}]}},
         "encoding": {"y": {"field": "q1", "type": "quantitative", "title": "Concentration (ng L⁻¹)", "scale": {"type": "log", "domain": [0.1, 100000], "nice": false}}, "y2": {"field": "q3"}}},
        {"transform": [{"filter": "isValid(datum.q1)"}],
         "mark": {"type": "bar", "stroke": "#555", "strokeWidth": 1.2,
           "fill": {"gradient": "linear", "x1": 0, "y1": 0, "x2": 0, "y2": 1, "stops": [
             {"offset":0,"color":"rgba(255,255,255,0)"},{"offset":0.045,"color":"rgba(255,255,255,0)"},{"offset":0.045,"color":"#555"},{"offset":0.0667,"color":"#555"},
             {"offset":0.0667,"color":"rgba(255,255,255,0)"},{"offset":0.1117,"color":"rgba(255,255,255,0)"},{"offset":0.1117,"color":"#555"},{"offset":0.1333,"color":"#555"},
             {"offset":0.1333,"color":"rgba(255,255,255,0)"},{"offset":0.1783,"color":"rgba(255,255,255,0)"},{"offset":0.1783,"color":"#555"},{"offset":0.2,"color":"#555"},
             {"offset":0.2,"color":"rgba(255,255,255,0)"},{"offset":0.245,"color":"rgba(255,255,255,0)"},{"offset":0.245,"color":"#555"},{"offset":0.2667,"color":"#555"},
             {"offset":0.2667,"color":"rgba(255,255,255,0)"},{"offset":0.3117,"color":"rgba(255,255,255,0)"},{"offset":0.3117,"color":"#555"},{"offset":0.3333,"color":"#555"},
             {"offset":0.3333,"color":"rgba(255,255,255,0)"},{"offset":0.3783,"color":"rgba(255,255,255,0)"},{"offset":0.3783,"color":"#555"},{"offset":0.4,"color":"#555"},
             {"offset":0.4,"color":"rgba(255,255,255,0)"},{"offset":0.445,"color":"rgba(255,255,255,0)"},{"offset":0.445,"color":"#555"},{"offset":0.4667,"color":"#555"},
             {"offset":0.4667,"color":"rgba(255,255,255,0)"},{"offset":0.5117,"color":"rgba(255,255,255,0)"},{"offset":0.5117,"color":"#555"},{"offset":0.5333,"color":"#555"},
             {"offset":0.5333,"color":"rgba(255,255,255,0)"},{"offset":0.5783,"color":"rgba(255,255,255,0)"},{"offset":0.5783,"color":"#555"},{"offset":0.6,"color":"#555"},
             {"offset":0.6,"color":"rgba(255,255,255,0)"},{"offset":0.645,"color":"rgba(255,255,255,0)"},{"offset":0.645,"color":"#555"},{"offset":0.6667,"color":"#555"},
             {"offset":0.6667,"color":"rgba(255,255,255,0)"},{"offset":0.7117,"color":"rgba(255,255,255,0)"},{"offset":0.7117,"color":"#555"},{"offset":0.7333,"color":"#555"},
             {"offset":0.7333,"color":"rgba(255,255,255,0)"},{"offset":0.7783,"color":"rgba(255,255,255,0)"},{"offset":0.7783,"color":"#555"},{"offset":0.8,"color":"#555"},
             {"offset":0.8,"color":"rgba(255,255,255,0)"},{"offset":0.845,"color":"rgba(255,255,255,0)"},{"offset":0.845,"color":"#555"},{"offset":0.8667,"color":"#555"},
             {"offset":0.8667,"color":"rgba(255,255,255,0)"},{"offset":0.9117,"color":"rgba(255,255,255,0)"},{"offset":0.9117,"color":"#555"},{"offset":0.9333,"color":"#555"},
             {"offset":0.9333,"color":"rgba(255,255,255,0)"},{"offset":0.9783,"color":"rgba(255,255,255,0)"},{"offset":0.9783,"color":"#555"},{"offset":1,"color":"#555"}]}},
         "encoding": {"y": {"field": "q1", "type": "quantitative", "title": "Concentration (ng L⁻¹)", "scale": {"type": "log", "domain": [0.1, 100000], "nice": false}}, "y2": {"field": "q3"}}},
        {"mark": {"type": "tick", "color": "#000", "size": 47, "thickness": 3},
         "encoding": {"y": {"field": "median", "type": "quantitative", "title": "Concentration (ng L⁻¹)", "scale": {"type": "log", "domain": [0.1, 100000], "nice": false}}}}
      ]
    }
  ]
}
